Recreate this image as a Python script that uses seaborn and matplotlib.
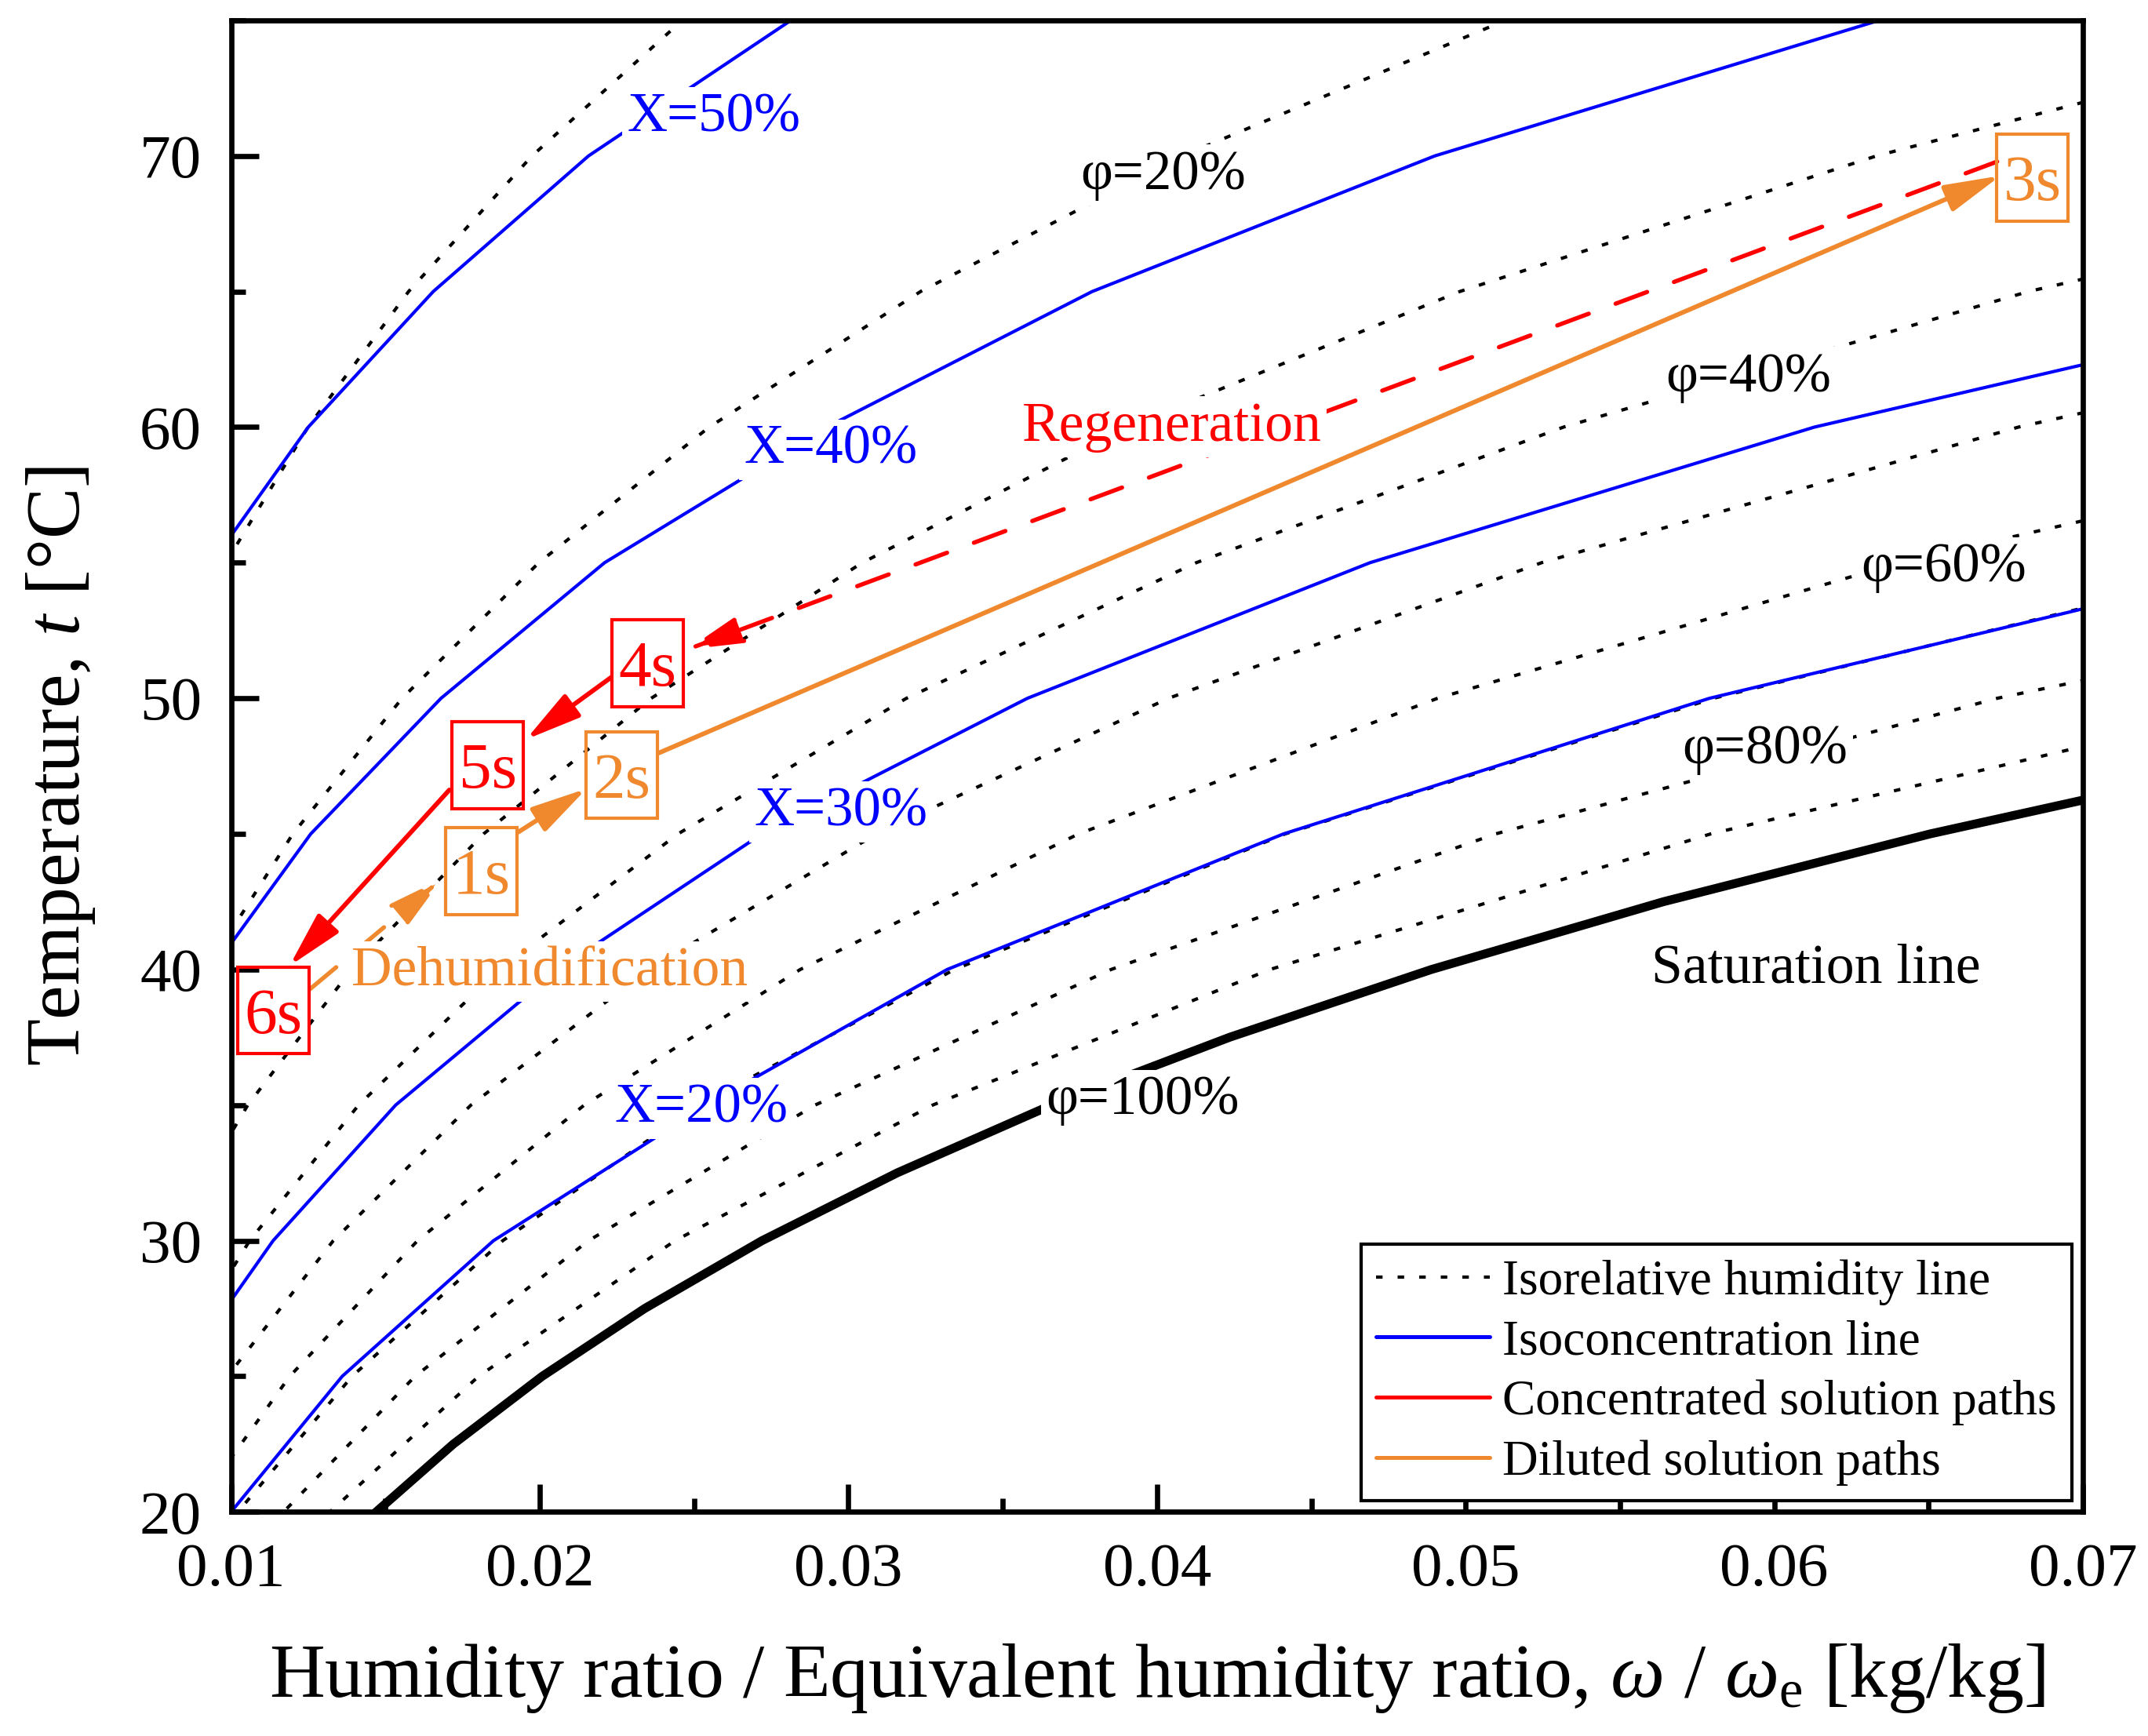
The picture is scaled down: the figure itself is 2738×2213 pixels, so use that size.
import numpy as np
import matplotlib
matplotlib.use('Agg')
import matplotlib.pyplot as plt
import matplotlib.transforms as mtransforms
import seaborn as sns
from matplotlib.lines import Line2D
from matplotlib.patches import Rectangle
from matplotlib.ticker import MultipleLocator, FormatStrFormatter

nan = np.nan

# isorelative humidity lines, humidity ratio [kg/kg] read at each temperature
t_grid = [15, 20, 25, 30, 35, 40, 45, 50, 55, 60, 65, 70, 75]
w_rh10 = [nan, nan, nan, nan, nan, nan, nan, 0.00768, 0.00983, 0.01249, 0.01575, 0.01975, 0.02462]
w_rh20 = [nan, nan, nan, nan, 0.00699, 0.00920, 0.01200, 0.01554, 0.01997, 0.02549, 0.03234, 0.04082, 0.05129]
w_rh30 = [nan, nan, nan, 0.00792, 0.01054, 0.01390, 0.01818, 0.02361, 0.03045, 0.03904, 0.04981, 0.06331, 0.08025]
w_rh40 = [nan, nan, 0.00788, 0.01060, 0.01413, 0.01868, 0.02448, 0.03188, 0.04127, 0.05317, 0.06824, 0.08738, nan]
w_rh50 = [nan, 0.00726, 0.00988, 0.01331, 0.01777, 0.02352, 0.03091, 0.04037, 0.05246, 0.06791, 0.08770, nan, nan]
w_rh60 = [nan, 0.00874, 0.01190, 0.01604, 0.02144, 0.02844, 0.03746, 0.04909, 0.06404, 0.08331, nan, nan, nan]
w_rh70 = [0.00741, 0.01022, 0.01392, 0.01880, 0.02516, 0.03344, 0.04415, 0.05803, 0.07601, nan, nan, nan, nan]
w_rh80 = [0.00849, 0.01170, 0.01596, 0.02158, 0.02892, 0.03851, 0.05097, 0.06722, 0.08841, nan, nan, nan, nan]
w_rh90 = [0.00956, 0.01320, 0.01802, 0.02438, 0.03273, 0.04366, 0.05794, 0.07665, nan, nan, nan, nan, nan]
rh_series = [w_rh10, w_rh20, w_rh30, w_rh40, w_rh50, w_rh60, w_rh70, w_rh80, w_rh90]

# saturation line (phi = 100%)
t_sat = [17.5, 20, 22.5, 25, 27.5, 30, 32.5, 35, 37.5, 40, 42.5, 45, 47.5]
w_sat = [0.01252, 0.01470, 0.01720, 0.02008, 0.02340, 0.02720, 0.03158, 0.03658,
         0.04235, 0.04889, 0.05641, 0.06505, 0.07498]

# isoconcentration lines (equivalent humidity ratio vs temperature)
w_x20 = [0.0100, 0.0136, 0.0185, 0.0254, 0.0332, 0.0441, 0.0579, 0.0700]
t_x20 = [20.0, 25, 30, 35, 40, 45, 50, 53.3]
w_x30 = [0.0100, 0.01136, 0.01533, 0.0206, 0.0272, 0.0358, 0.0469, 0.0613, 0.0700]
t_x30 = [27.8, 30, 35, 40, 45, 50, 55, 60, 62.3]
w_x40 = [0.0100, 0.01258, 0.0168, 0.0221, 0.0293, 0.0379, 0.0490, 0.0634]
t_x40 = [40.96, 45, 50, 55, 60, 65, 70, 75]
w_x50 = [0.0100, 0.01250, 0.01655, 0.02158, 0.02814]
t_x50 = [56.0, 60, 65, 70, 75]

# solution paths: (w_start, t_start, w_end, t_end)
conc_paths = [(0.06722, 69.79, 0.02478, 51.80),   # 3s -> 4s (regeneration)
              (0.02231, 50.77, 0.01955, 48.48),   # 4s -> 5s
              (0.01707, 46.62, 0.01189, 40.13)]   # 5s -> 6s
conc_dashed = [True, False, False]
dil_paths = [(0.01257, 39.29, 0.01684, 43.35),    # 6s -> 1s (dehumidification)
             (0.01931, 45.07, 0.02152, 46.67),    # 1s -> 2s
             (0.02385, 47.98, 0.06733, 69.27)]    # 2s -> 3s
dil_dashed = [True, False, False]

# state point labels
state_names = ['1s', '2s', '3s', '4s', '5s', '6s']
state_w = [0.01810, 0.02265, 0.06837, 0.02350, 0.01831, 0.01138]
state_t = [43.62, 47.17, 69.19, 51.30, 47.53, 38.49]

x_names = ['X=20%', 'X=30%', 'X=40%', 'X=50%']
x_w = [0.02523, 0.02977, 0.02943, 0.02563]
x_t = [35.09, 46.03, 59.38, 71.64]

phi_names = ['φ=20%', 'φ=40%', 'φ=60%', 'φ=80%', 'φ=100%']
phi_w = [0.04019, 0.05917, 0.06549, 0.05970, 0.03953]
phi_t = [69.51, 62.05, 55.04, 48.34, 35.39]

RED = '#FF0000'
ORANGE = '#F0882E'
BLUE = '#0000FF'

sns.set_theme(style='ticks', rc={'axes.edgecolor': 'black', 'text.color': 'black',
                                 'axes.labelcolor': 'black', 'xtick.color': 'black',
                                 'ytick.color': 'black'})
plt.rcParams['font.family'] = ['Liberation Serif', 'DejaVu Serif']
plt.rcParams['mathtext.fontset'] = 'custom'
plt.rcParams['mathtext.rm'] = 'Liberation Serif'
plt.rcParams['mathtext.it'] = 'Liberation Serif:italic'

fig = plt.figure(figsize=(2738 / 300, 2213 / 300), dpi=300)
ax = fig.add_axes([0.1076, 0.1291, 0.8621, 0.8592])

dot_style = (0, (2.0, 4.6))
tg = np.array(t_grid, dtype=float)
for w in rh_series:
    w = np.array(w, dtype=float)
    m = ~np.isnan(w)
    sns.lineplot(x=w[m], y=tg[m], ax=ax, color='black', lw=1.0, linestyle=dot_style,
                 sort=False, estimator=None, zorder=2)

for w, t in [(w_x20, t_x20), (w_x30, t_x30), (w_x40, t_x40), (w_x50, t_x50)]:
    sns.lineplot(x=w, y=t, ax=ax, color=BLUE, lw=1.0, sort=False, estimator=None, zorder=2)

sns.lineplot(x=w_sat, y=t_sat, ax=ax, color='black', lw=2.7, sort=False, estimator=None, zorder=2)


def draw_path(p, color, dashed):
    w0, t0, w1, t1 = p
    ls = (0, (7.9, 6.75)) if dashed else '-'
    ax.annotate('', xy=(w1, t1), xytext=(w0, t0),
                arrowprops=dict(arrowstyle='-|>,head_length=1.45,head_width=0.36',
                                mutation_scale=10, color=color, lw=1.3 if dashed else 1.4,
                                linestyle=ls, shrinkA=0, shrinkB=0),
                zorder=4)


for p, d in zip(conc_paths, conc_dashed):
    draw_path(p, RED, d)
for p, d in zip(dil_paths, dil_dashed):
    draw_path(p, ORANGE, d)

# texts are nudged down a little so the glyphs (not the font box) sit on the point
txt_tr = mtransforms.offset_copy(ax.transData, fig=fig, x=0, y=-1.8, units='points')
white = dict(facecolor='white', edgecolor='none', pad=1.5)
for s, w, t in zip(x_names, x_w, x_t):
    ax.text(w, t, s, color=BLUE, fontsize=17, ha='center', va='center', bbox=white,
            zorder=5, transform=txt_tr)
for s, w, t in zip(phi_names, phi_w, phi_t):
    ax.text(w, t, s, color='black', fontsize=17, ha='center', va='center', bbox=white,
            zorder=5, transform=txt_tr)

ax.text(0.04048, 60.22, 'Regeneration', color=RED, fontsize=17.2, ha='center', va='center',
        bbox=white, zorder=5, transform=txt_tr)
ax.text(0.02033, 40.14, 'Dehumidification', color=ORANGE, fontsize=17.2, ha='center',
        va='center', bbox=white, zorder=5, transform=txt_tr)
ax.text(0.06136, 40.24, 'Saturation line', color='black', fontsize=17.2, ha='center',
        va='center', zorder=5, transform=txt_tr)

# state point boxes (fixed size in points, centred on the point)
box_w, box_h = 21.8, 26.6
state_tr = mtransforms.offset_copy(ax.transData, fig=fig, x=0, y=-2.1, units='points')
for i, (s, w, t) in enumerate(zip(state_names, state_w, state_t)):
    c = ORANGE if i < 3 else RED
    ax.text(w, t, s, color=c, fontsize=20, ha='center', va='center', zorder=6,
            transform=state_tr)
    tr = fig.dpi_scale_trans + mtransforms.ScaledTranslation(w, t, ax.transData)
    ax.add_artist(Rectangle((-box_w / 144, -box_h / 144), box_w / 72, box_h / 72,
                            transform=tr, fill=False, edgecolor=c, lw=1.0, zorder=6))

ax.set_xlim(0.01, 0.07)
ax.set_ylim(20, 75)
ax.xaxis.set_major_locator(MultipleLocator(0.01))
ax.xaxis.set_minor_locator(MultipleLocator(0.005))
ax.xaxis.set_major_formatter(FormatStrFormatter('%.2f'))
ax.yaxis.set_major_locator(MultipleLocator(10))
ax.yaxis.set_minor_locator(MultipleLocator(5))
ax.tick_params(which='both', direction='in', top=False, right=False, width=1.6)
ax.tick_params(which='major', length=8.5, labelsize=19)
ax.tick_params(which='minor', length=4.2)
ax.tick_params(axis='x', which='major', pad=9.5)
ax.tick_params(axis='y', which='major', pad=9)
for sp in ax.spines.values():
    sp.set_linewidth(1.6)
    sp.set_color('black')

ax.set_xlabel(r'Humidity ratio / Equivalent humidity ratio, $\omega$ / $\omega_{\rm e}$ [kg/kg]',
              fontsize=23.5, labelpad=13)
ax.set_ylabel(r'Temperature, $t$ [°C]', fontsize=23.5, labelpad=13)

handles = [Line2D([], [], color='black', lw=1.0, linestyle=dot_style),
           Line2D([], [], color=BLUE, lw=1.2),
           Line2D([], [], color=RED, lw=1.2),
           Line2D([], [], color=ORANGE, lw=1.2)]
labels = ['Isorelative humidity line', 'Isoconcentration line',
          'Concentrated solution paths', 'Diluted solution paths']
leg = ax.legend(handles, labels, loc='lower right', bbox_to_anchor=(0.994, 0.0074),
                borderaxespad=0, fontsize=15.2, handlelength=2.3, handletextpad=0.25,
                labelspacing=0.29, borderpad=0.3, fancybox=False, framealpha=1,
                edgecolor='black')
leg.get_frame().set_linewidth(1.0)

fig.savefig('out.png', dpi=300)
